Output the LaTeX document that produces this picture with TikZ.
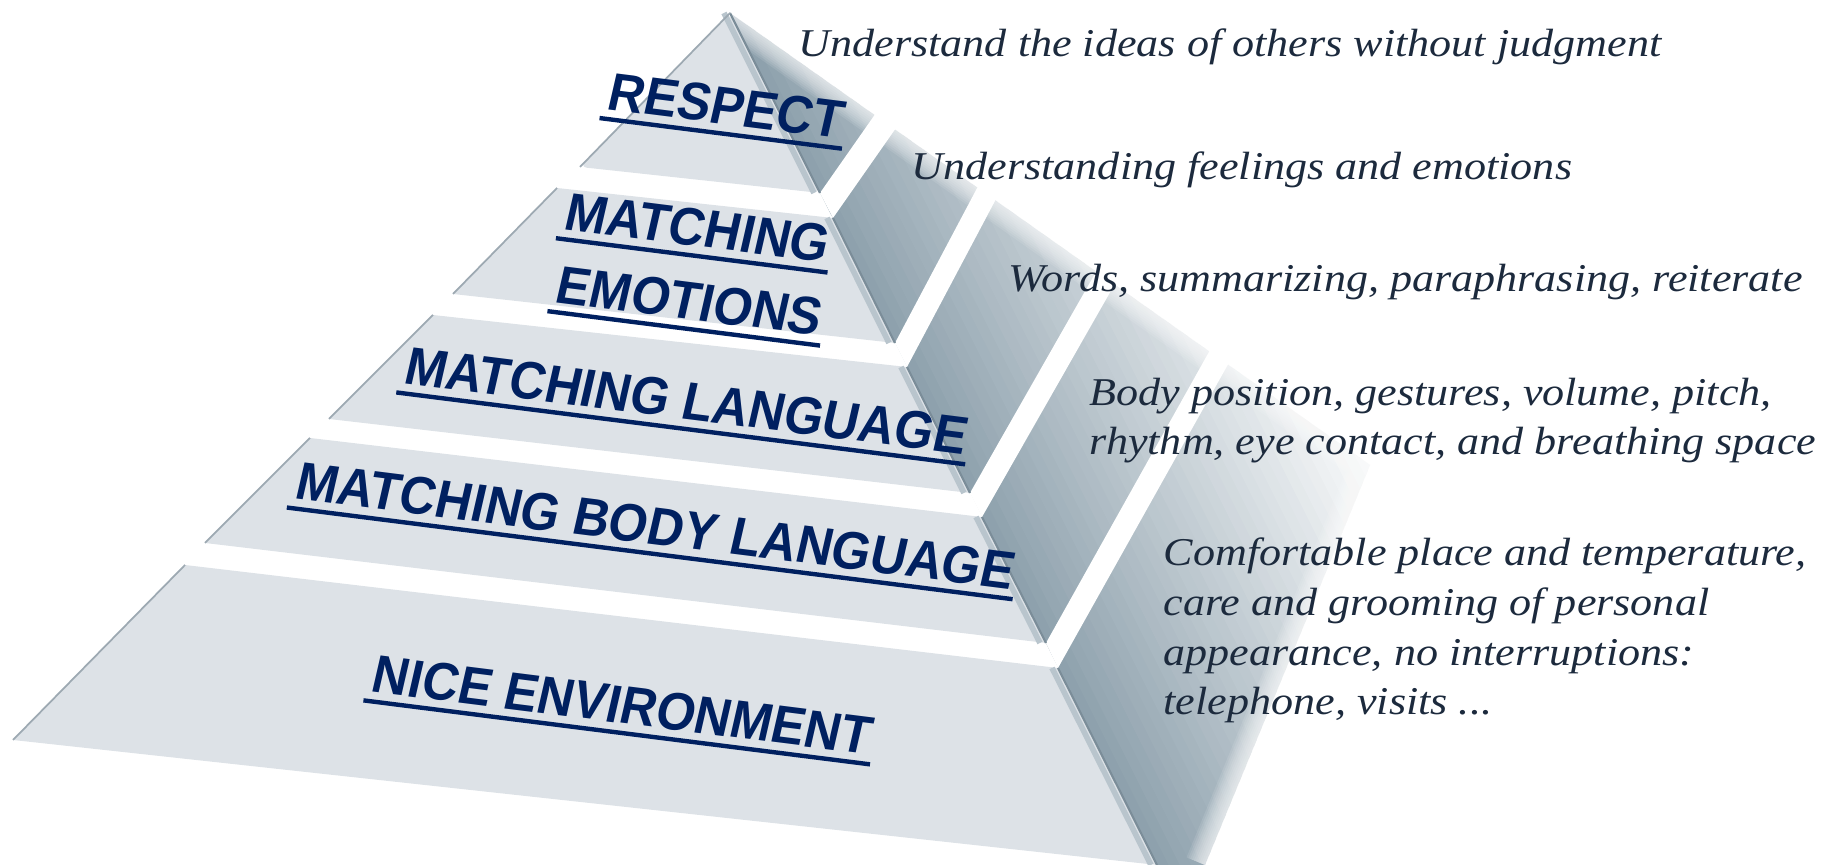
\documentclass[tikz,border=0pt]{standalone}
\usepackage{fontspec}
\usepackage{xcolor}
\usepackage{tikz}
\usetikzlibrary{calc}

\setmainfont{Liberation Serif}
\newfontfamily\tierfont{Liberation Sans}
\newfontfamily\notefont[FakeStretch=1.12]{Liberation Serif}

\definecolor{navy}{HTML}{002060}
\definecolor{notecol}{HTML}{1C2A3D}
\definecolor{frontface}{HTML}{DDE2E7}
\definecolor{sideface}{HTML}{8EA1AD}
\definecolor{ridgeline}{HTML}{7B8D99}
\definecolor{leftedge}{HTML}{9DA9B2}

\begin{document}
\begin{tikzpicture}[
    x=0.01cm, y=-0.01cm,
    tier/.style={fill=frontface},
    gap/.style={fill=white},
    edge/.style={draw=ridgeline, line width=0.6pt},
    bevel/.style={draw=frontface!55!sideface, line width=1.6pt},
    tiertext/.style={font=\tierfont\bfseries\fontsize{14.2}{16}\selectfont, text=navy, rotate=-7.2, xslant=0.1, yscale=1.07, inner xsep=1pt, inner ysep=2.2pt},
    uline/.style={draw=navy, line width=1.25pt},
    notetext/.style={font=\notefont\itshape\fontsize{11.2}{14.2}\selectfont, text=notecol, align=left, anchor=base west, inner sep=0pt}
]

\useasboundingbox (0,0) rectangle (1832,865);

\coordinate (apex) at (730,13);
\coordinate (rb) at (1157,865); % foot of the front ridge
\coordinate (back) at (1370,465);
\coordinate (foot) at (1205,865);

% side face, shaded in strips parallel to the ridge
\begin{scope}
    \clip (apex) -- (back) -- (foot) -- (rb) -- cycle;
    \foreach \i in {0,...,38} {
        \pgfmathsetmacro\o{10*\i}
        \pgfmathtruncatemacro\p{100-2.6*\i}
        \fill[sideface!\p!white] ($(rb)+(0.894*\o+45,-0.448*\o+89)$) -- ++(-538,-1072) -- ++(13.4,-6.7) -- ++(538,1072) -- cycle;
    }
\end{scope}
% soften the far edge
\foreach \w in {40,36,...,4}
    \draw[white, opacity=0.1, line width=\w*0.2845pt, line join=round] (apex) -- (back) -- (foot);

% gaps running up the side face
\fill[gap] (820,193) -- (833,218) -- (1113,-182) -- (1100,-207) -- cycle;
\fill[gap] (895,343) -- (907,367) -- (1119,-33) -- (1107,-57) -- cycle;
\fill[gap] (970,493) -- (982,517) -- (1210,117) -- (1198,93) -- cycle;
\fill[gap] (1046,643) -- (1058,668) -- (1282,268) -- (1270,243) -- cycle;

% front faces of the five tiers
\fill[tier, rounded corners=2pt] (580,167) -- (apex) -- (820,193) -- cycle;
\fill[tier] (557,188) -- (833,218) -- (895,343) -- (453,294) -- cycle;
\fill[tier] (433,315) -- (907,367) -- (970,493) -- (329,419) -- cycle;
\fill[tier] (310,438) -- (982,517) -- (1046,643) -- (205,543) -- cycle;
\fill[tier] (185,565) -- (1058,668) -- (rb) -- (13,740) -- cycle;

% ridge and left edges
\foreach \a/\b in {apex/{820,193}, {833,218}/{895,343}, {907,367}/{970,493}, {982,517}/{1046,643}, {1058,668}/rb} {
    \draw[bevel] ([xshift=-0.06cm]\a) -- ([xshift=-0.06cm]\b);
    \draw[edge] (\a) -- (\b);
}
\draw[leftedge, line width=0.5pt] (apex) -- (580,167) (557,188) -- (453,294)
    (433,315) -- (329,419) (310,438) -- (205,543) (185,565) -- (13,740);

% tier names
\node[tiertext] (respect) at (727,106) {RESPECT};
\node[tiertext] (matching) at (698,228) {MATCHING};
\node[tiertext] (emotions) at (690,301) {EMOTIONS};
\node[tiertext] (language) at (687,401) {MATCHING LANGUAGE};
\node[tiertext] (body) at (656,526) {MATCHING BODY LANGUAGE};
\node[tiertext] (nice) at (623,705) {NICE ENVIRONMENT};
\foreach \n in {respect,matching,emotions,language,body,nice}
    \draw[uline] (\n.south west) -- (\n.south east);

% notes beside the tiers
\node[notetext] (n1) at (798,57) {Understand the ideas of others without judgment};
\node[notetext] (n2) at (911,180) {Understanding feelings and emotions};
\node[notetext] (n3) at (1008,292) {Words, summarizing, paraphrasing, reiterate};
\node[notetext] (n4) at (1089,455) {Body position, gestures, volume, pitch,\\rhythm, eye contact, and breathing space};
\node[notetext] (n5) at (1163,715) {Comfortable place and temperature,\\care and grooming of personal\\appearance, no interruptions:\\telephone, visits ...};

\end{tikzpicture}
\end{document}
